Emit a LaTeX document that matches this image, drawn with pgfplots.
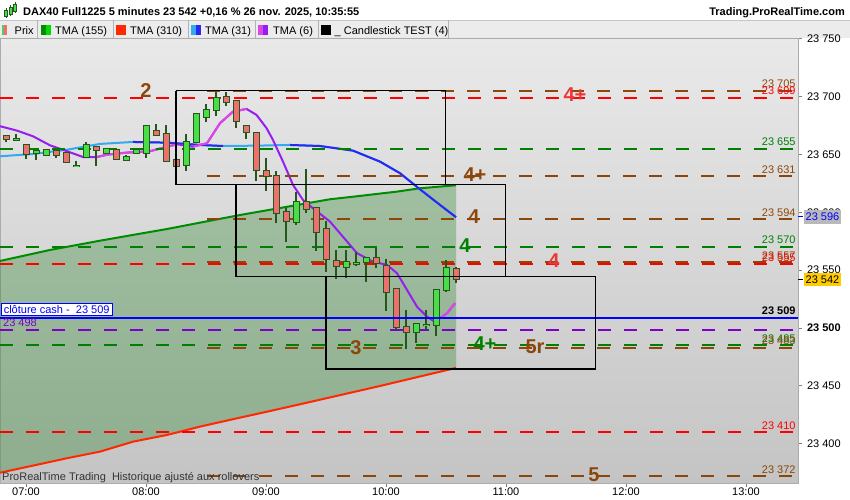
\documentclass[border=0pt]{standalone}
\usepackage{pgfplots}
\pgfplotsset{compat=1.18}
\usepackage{pgfplotstable}
\usepackage{fontspec}
\setmainfont{Liberation Sans}

\definecolor{bgtop}{RGB}{233,233,233}
\definecolor{bgbot}{RGB}{196,196,196}
\definecolor{candgreen}{RGB}{72,222,72}
\definecolor{candred}{RGB}{236,112,112}
\definecolor{candline}{RGB}{38,86,28}
\definecolor{lvbrown}{RGB}{140,70,10}
\definecolor{lvred}{RGB}{255,0,0}
\definecolor{lvgreen}{RGB}{0,128,0}
\definecolor{lvpurple}{RGB}{128,0,200}
\definecolor{tmagreen}{RGB}{0,140,0}
\definecolor{tmared}{RGB}{255,40,0}
\definecolor{tmalblue}{RGB}{50,170,240}
\definecolor{tmablue}{RGB}{40,40,240}
\definecolor{tmamag}{RGB}{220,70,230}
\definecolor{tmapurp}{RGB}{150,30,240}
\definecolor{fillg}{RGB}{0,110,0}
\definecolor{lblred}{RGB}{235,55,55}
\definecolor{legbg}{RGB}{236,236,236}
\definecolor{tagyellow}{RGB}{255,204,0}
\definecolor{swgreen}{RGB}{90,200,90}
\definecolor{swlgreen}{RGB}{0,220,0}

\newcommand\ff{\fontsize{11bp}{13bp}\selectfont}
\newcommand\bigf{\fontsize{20bp}{22bp}\selectfont\bfseries}

\tikzset{
  val/.style={anchor=base east, inner sep=0, font=\ff, yshift=3bp},
  pat/.style={font=\bigf},
}

% candles: t = minutes after 07:00
\pgfplotstableread{
t o h l c
-5 23662.6 23667.9 23662.6 23663.0
5 23650.8 23653.8 23645.5 23652.5
10 23649.2 23654.0 23648.3 23654.0
25 23639.7 23644.0 23639.7 23640.2
30 23647.5 23660.7 23646.9 23657.9
40 23650.9 23655.5 23649.9 23654.7
50 23644.9 23649.2 23644.9 23647.5
55 23650.9 23654.9 23650.1 23653.8
60 23651.2 23675.6 23646.9 23674.3
80 23640.6 23667.4 23635.6 23660.9
85 23660.4 23685.3 23659.8 23684.6
90 23682.0 23693.3 23677.7 23688.1
95 23688.1 23704.1 23682.9 23698.4
135 23591.9 23617.8 23589.0 23609.1
160 23552.5 23567.4 23543.0 23557.3
165 23555.6 23565.9 23553.6 23556.2
170 23557.0 23561.6 23540.0 23560.2
195 23496.3 23504.1 23487.3 23503.2
200 23502.3 23515.6 23498.3 23502.9
205 23502.4 23532.9 23493.4 23532.9
210 23533.1 23558.8 23531.4 23551.6
}\upc

\pgfplotstableread{
t o h l c
-10 23665.6 23665.6 23660.4 23663.6
0 23657.9 23657.9 23646.3 23650.3
15 23653.2 23653.2 23646.9 23649.2
20 23651.2 23651.2 23642.3 23643.2
35 23656.1 23656.1 23639.7 23653.5
45 23653.5 23653.5 23644.9 23646.3
65 23670.0 23676.0 23666.5 23666.5
70 23667.4 23675.4 23644.5 23644.5
75 23644.9 23648.6 23640.2 23640.2
100 23699.8 23704.1 23691.5 23695.2
105 23695.9 23695.9 23672.5 23678.8
110 23674.8 23674.8 23663.0 23669.3
115 23668.2 23668.2 23627.3 23636.3
120 23635.4 23646.6 23618.6 23631.6
125 23631.1 23635.6 23591.0 23599.1
130 23600.0 23603.4 23574.6 23592.5
140 23609.1 23637.1 23599.6 23602.6
145 23603.4 23603.4 23566.8 23582.7
150 23585.3 23592.5 23548.2 23559.4
155 23557.9 23567.4 23542.1 23553.3
175 23560.2 23568.9 23551.6 23555.9
180 23553.6 23559.4 23515.0 23531.4
185 23533.5 23533.5 23498.3 23501.2
190 23500.6 23515.6 23482.2 23496.8
215 23550.7 23552.5 23539.2 23542.0
}\downc

% TMA (155)
\pgfplotstableread{
t v
-13 23557.9
12 23567.4
37 23575.4
53.5 23580.4
70.5 23585.5
87 23591.0
107 23597.6
152 23611.2
163.5 23613.4
185.5 23617.8
197 23620.7
215 23623.3
}\tmaG

% TMA (310)
\pgfplotstableread{
t v
-13 23375.0
3.5 23381.1
20.5 23387.5
37 23393.2
53.5 23401.8
70.5 23407.6
87 23414.8
103.5 23421.2
120.5 23427.7
137 23434.1
177 23449.9
215 23465.5
}\tmaR

% zone between TMA 155 (forward) and TMA 310 (back)
\pgfplotstableread{
t v
-13 23557.9
12 23567.4
37 23575.4
53.5 23580.4
70.5 23585.5
87 23591.0
107 23597.6
152 23611.2
163.5 23613.4
185.5 23617.8
197 23620.7
215 23623.3
215 23465.5
177 23449.9
137 23434.1
120.5 23427.7
103.5 23421.2
87 23414.8
70.5 23407.6
53.5 23401.8
37 23393.2
20.5 23387.5
3.5 23381.1
-13 23375.0
}\zone

% TMA (31)
\pgfplotstableread{
t v
-13 23648.3
3.5 23650.3
20.5 23654.0
37 23659.0
53.5 23660.7
70.5 23660.1
87 23658.1
98.5 23657.2
115.5 23657.5
132 23658.1
147 23657.2
163.5 23653.2
177 23643.7
187 23633.7
197 23619.8
207 23606.3
215 23595.7
}\tmaB

% TMA (6)
\pgfplotstableread{
t v
-13 23674.3
-4.5 23670.5
3.5 23665.6
12 23657.8
20.5 23652.7
28.5 23647.7
35.5 23647.7
40.5 23649.7
50.5 23651.5
62 23652.7
70.5 23656.6
75.5 23658.7
83.5 23656.6
90.5 23659.6
97 23676.9
103.5 23686.9
110.3 23689.2
115.3 23684.0
120.3 23672.5
123.5 23662.4
128.5 23643.7
133.5 23623.6
138.5 23610.6
143.5 23603.4
152 23591.9
165.5 23564.6
173.5 23557.3
180.5 23554.5
185.5 23547.3
190.5 23532.9
195.5 23518.4
200.5 23509.8
203.5 23506.3
207 23508.4
210.5 23512.7
214.5 23521.4
}\tmaP

\begin{document}
\begin{tikzpicture}
\useasboundingbox (0,0) rectangle (850bp,500bp);
\fill[white] (0,0) rectangle (850bp,500bp);
\fill[legbg] (0,462bp) rectangle (850bp,479.5bp);
\draw[gray!45] (0,479.5bp) -- (850bp,479.5bp);

\begin{axis}[
  at={(0,17bp)}, anchor=south west,
  scale only axis, width=798bp, height=445bp,
  xmin=-13, xmax=386, ymin=23366.1, ymax=23750.5,
  scaled y ticks=false, scaled x ticks=false,
  axis background/.style={top color=bgtop, bottom color=bgbot},
  axis line style={draw=gray!65},
  xtick={0,60,120,180,240,300,360},
  xticklabels={07:00,08:00,09:00,10:00,11:00,12:00,13:00},
  ytick={23400,23450,23500,23550,23600,23650,23700,23750},
  yticklabels={23 400,23 450,\textbf{23 500},23 550,23 600,23 650,23 700,23 750},
  xtick pos=left, ytick pos=right, yticklabel pos=right,
  tick align=outside, major tick length=4bp,
  tick style={draw=gray, line width=0.8bp},
  tick label style={font=\ff},
  xticklabel style={yshift=2.5bp},
  yticklabel style={xshift=1.5bp},
  lv/.style={line width=2bp, dash pattern=on 13bp off 13bp},
  tma/.style={line width=2bp, line join=round},
  wick/.style={draw=none, mark=none, error bars/.cd, y dir=both, y explicit, error mark=none,
    error bar style={draw=candline, line width=1.3bp}},
  body/.style={draw=none, mark=none, error bars/.cd, y dir=both, y explicit, error mark=none,
    error bar style={draw=#1, line width=7bp}},
  inner/.style={draw=none, mark=none, error bars/.cd, y dir=plus, y explicit, error mark=none,
    error bar style={draw=#1, line width=5bp}},
]
% zone between TMA 155 and TMA 310
\addplot[fill=fillg, fill opacity=0.27, draw=none] table[x=t,y=v]{\zone} -- cycle;
\addplot[tma, tmagreen] table[x=t,y=v]{\tmaG};
\addplot[tma, tmared] table[x=t,y=v]{\tmaR};

% TMA 31 (light when rising, dark when falling)
\addplot[tma, tmalblue] table[x=t,y=v]{\tmaB};
\addplot[tma, tmablue, restrict x to domain=53.5:98.5] table[x=t,y=v]{\tmaB};
\addplot[tma, tmablue, restrict x to domain=132:215] table[x=t,y=v]{\tmaB};

% TMA 6
\addplot[tma, tmapurp] table[x=t,y=v]{\tmaP};
\addplot[tma, tmamag, restrict x to domain=35.5:75.5] table[x=t,y=v]{\tmaP};
\addplot[tma, tmamag, restrict x to domain=83.5:110.3] table[x=t,y=v]{\tmaP};
\addplot[tma, tmamag, restrict x to domain=203.5:214.5] table[x=t,y=v]{\tmaP};

% levels
\addplot[lv, lvbrown] coordinates {(90.5,23705) (386,23705)};
\addplot[lv, lvred] coordinates {(-13,23699) (386,23699)};
\addplot[lv, lvgreen] coordinates {(-13,23655) (386,23655)};
\addplot[lv, lvbrown] coordinates {(90.5,23631) (386,23631)};
\addplot[lv, lvbrown] coordinates {(90.5,23594) (386,23594)};
\addplot[lv, lvgreen] coordinates {(-13,23570) (386,23570)};
\addplot[lv, lvbrown] coordinates {(90.5,23557) (386,23557)};
\addplot[lv, lvred] coordinates {(-13,23555) (386,23555)};
\addplot[lv, lvpurple] coordinates {(-13,23498) (386,23498)};
\addplot[lv, lvgreen] coordinates {(-13,23485) (386,23485)};
\addplot[lv, lvbrown] coordinates {(90.5,23483) (386,23483)};
\addplot[lv, lvred] coordinates {(-13,23410) (386,23410)};
\addplot[lv, lvbrown] coordinates {(90.5,23372) (386,23372)};

% candles: wicks, outlines, bodies
\addplot[wick] table[x=t, y=o, y error plus expr=\thisrow{h}-\thisrow{o}, y error minus expr=\thisrow{o}-\thisrow{l}] {\upc};
\addplot[wick] table[x=t, y=c, y error plus expr=\thisrow{h}-\thisrow{c}, y error minus expr=\thisrow{c}-\thisrow{l}] {\downc};
\addplot[body=candline] table[x=t, y=o, y error plus expr=\thisrow{c}-\thisrow{o}+0.9, y error minus expr=0.9] {\upc};
\addplot[body=candline] table[x=t, y=c, y error plus expr=\thisrow{o}-\thisrow{c}+0.9, y error minus expr=0.9] {\downc};
\addplot[inner=candgreen] table[x=t, y=o, y error plus expr=\thisrow{c}-\thisrow{o}] {\upc};
\addplot[inner=candred] table[x=t, y=c, y error plus expr=\thisrow{o}-\thisrow{c}] {\downc};

% cash close
\addplot[blue, line width=2bp] coordinates {(-13,23509) (386,23509)};

% boxes
\addplot[black, line width=1.1bp] coordinates {(75,23705) (209.7,23705) (209.7,23624.2) (75,23624.2) (75,23705)};
\addplot[black, line width=1.1bp] coordinates {(105,23624.2) (239.7,23624.2) (239.7,23544.7) (105,23544.7) (105,23624.2)};
\addplot[black, line width=1.1bp] coordinates {(150,23544.7) (284.7,23544.7) (284.7,23464.6) (150,23464.6) (150,23544.7)};

% level values on the right
\node[val, text=lvbrown] at (axis cs:384.9,23705) {23 705};
\node[val, text=lvred] at (axis cs:384.9,23699) {23 699};
\node[val, text=lvgreen] at (axis cs:384.9,23655) {23 655};
\node[val, text=lvbrown] at (axis cs:384.9,23631) {23 631};
\node[val, text=lvbrown] at (axis cs:384.9,23594) {23 594};
\node[val, text=lvgreen] at (axis cs:384.9,23570) {23 570};
\node[val, text=lvbrown] at (axis cs:384.9,23557) {23 557};
\node[val, text=lvred] at (axis cs:384.9,23555) {23 555};
\node[val, text=black, font=\ff\bfseries] at (axis cs:384.9,23509) {23 509};
\node[val, text=lvgreen] at (axis cs:384.9,23485) {23 485};
\node[val, text=lvbrown] at (axis cs:384.9,23483) {23 483};
\node[val, text=lvred] at (axis cs:384.9,23410) {23 410};
\node[val, text=lvbrown] at (axis cs:384.9,23372) {23 372};

% pattern labels
\node[pat, text=lvbrown] at (axis cs:60,23704.8) {2};
\node[pat, text=lblred] at (axis cs:274.5,23701.3) {4+};
\node[pat, text=lvbrown] at (axis cs:224.5,23632.2) {4+};
\node[pat, text=lvbrown] at (axis cs:224,23595.9) {4};
\node[pat, text=lvgreen] at (axis cs:219.5,23570.9) {4};
\node[pat, text=lblred] at (axis cs:264,23557.9) {4};
\node[pat, text=lvgreen] at (axis cs:229.5,23486.2) {4+};
\node[pat, text=lvbrown] at (axis cs:254.5,23483.6) {5r};
\node[pat, text=lvbrown] at (axis cs:165,23482.8) {3};
\node[pat, text=lvbrown] at (axis cs:284,23373.0) {5};

\node[draw=blue, fill=white, line width=1bp, anchor=south west, inner xsep=2.5bp, inner ysep=2bp,
  text=blue, font=\ff, text depth=0pt] at (axis cs:-12.6,23510.2) {clôture cash -\ \ 23 509};
\node[anchor=base west, inner sep=0, font=\ff, text=lvpurple, yshift=4bp] at (axis cs:-11.5,23498) {23 498};
\end{axis}

% price tags on the scale
\fill[gray!55] (804bp,276bp) rectangle (841bp,290bp);
\node[font=\ff, text=blue, inner sep=0] at (822.5bp,283bp) {23 596};
\draw[blue, line width=1bp] (798bp,283bp) -- (803bp,283bp);
\fill[tagyellow] (804bp,214bp) rectangle (841bp,227bp);
\node[font=\ff, text=black, inner sep=0] at (822.5bp,220.5bp) {23 542};
\draw[black, line width=1bp] (798bp,220.5bp) -- (803bp,220.5bp);

% bottom note
\node[anchor=base west, inner sep=0, font=\ff, text=black!80] at (2bp,20bp) {ProRealTime Trading\ \ Historique ajusté aux rollovers};

% header
\foreach \xx/\yb/\yt in {6/484/490, 10.5/486/493, 15/489/496} {
  \draw[candline, line width=0.6bp] (\xx bp,\yb bp-2bp) -- (\xx bp,\yt bp+2bp);
  \filldraw[fill=candgreen, draw=candline, line width=0.5bp] (\xx bp-1.5bp,\yb bp) rectangle (\xx bp+1.5bp,\yt bp);
}
\node[anchor=base west, inner sep=0, font=\ff\bfseries] at (23bp,484bp) {DAX40 Full1225 5 minutes 23 542 +0,16 \% 26 nov. 2025, 10:35:55};
\node[anchor=base east, inner sep=0, font=\ff\bfseries] at (845bp,484bp) {Trading.ProRealTime.com};

% legend row
\foreach \xs in {37,113,188,255,318,448} {
  \draw[gray!60] (\xs bp,462bp) -- (\xs bp,479.5bp);
}
\fill[swgreen] (1.7bp,464.5bp) rectangle (4.2bp,474.5bp);
\fill[candred] (4.2bp,464.5bp) rectangle (6.8bp,474.5bp);
\fill[tmagreen] (41bp,464.5bp) rectangle (46bp,474.5bp);
\fill[swlgreen] (46bp,464.5bp) rectangle (51bp,474.5bp);
\fill[tmared] (116bp,464.5bp) rectangle (126bp,474.5bp);
\fill[tmalblue] (191bp,464.5bp) rectangle (196bp,474.5bp);
\fill[tmablue] (196bp,464.5bp) rectangle (201bp,474.5bp);
\fill[tmamag] (258bp,464.5bp) rectangle (263bp,474.5bp);
\fill[tmapurp] (263bp,464.5bp) rectangle (268bp,474.5bp);
\fill[black] (321bp,464.5bp) rectangle (331bp,474.5bp);
\node[anchor=base west, inner sep=0, font=\ff] at (14.5bp,465.8bp) {Prix};
\node[anchor=base west, inner sep=0, font=\ff] at (55bp,465.8bp) {TMA (155)};
\node[anchor=base west, inner sep=0, font=\ff] at (130bp,465.8bp) {TMA (310)};
\node[anchor=base west, inner sep=0, font=\ff] at (205bp,465.8bp) {TMA (31)};
\node[anchor=base west, inner sep=0, font=\ff] at (273bp,465.8bp) {TMA (6)};
\node[anchor=base west, inner sep=0, font=\ff] at (334.5bp,465.8bp) {\_ Candlestick TEST (4)};
\end{tikzpicture}
\end{document}
